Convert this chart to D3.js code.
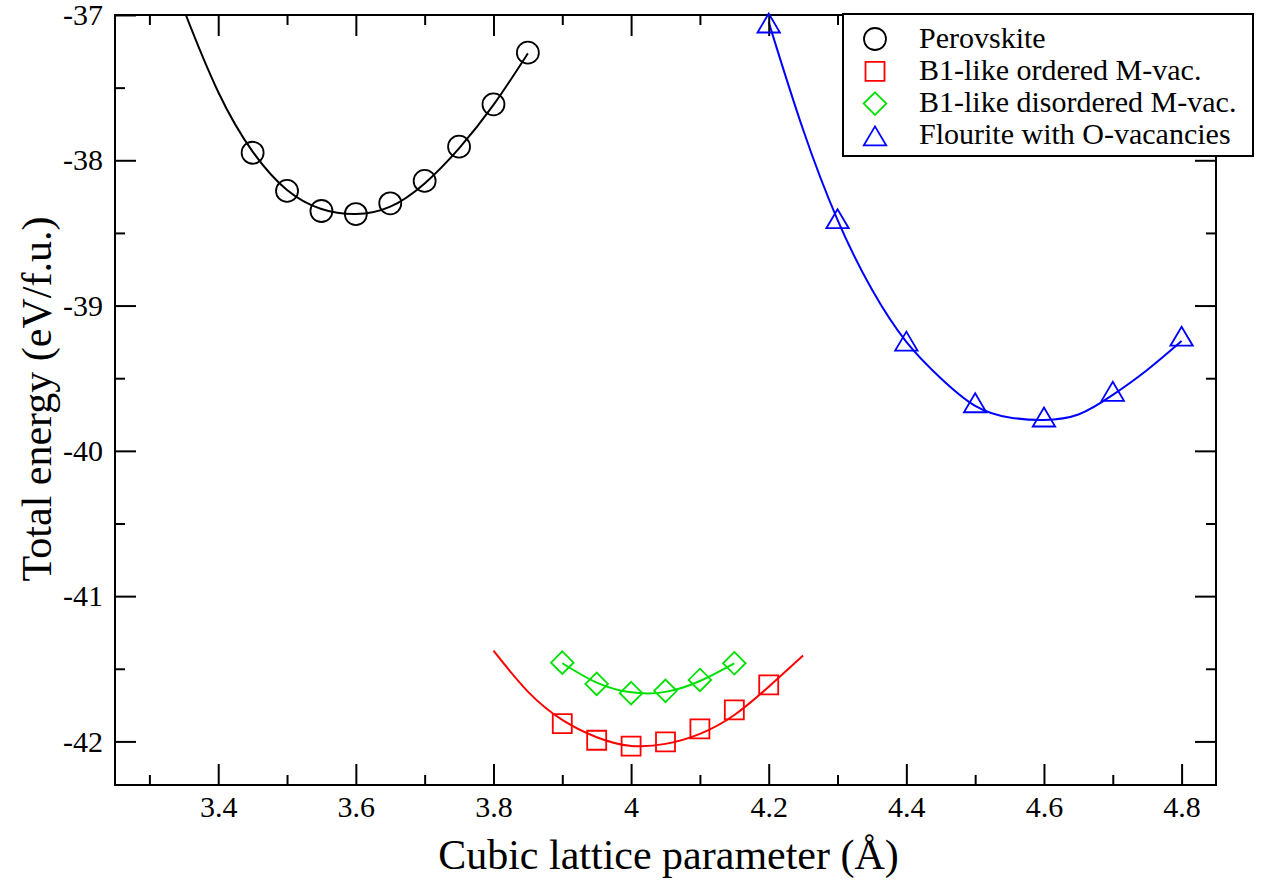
<!DOCTYPE html>
<html>
<head>
<meta charset="utf-8">
<script src="https://cdn.jsdelivr.net/npm/d3@7"></script>
<style>
  html, body { margin: 0; padding: 0; background: #fff; }
  svg { display: block; }
  text { font-family: "Liberation Serif", "Times New Roman", serif; fill: #000; }
</style>
</head>
<body>
<svg id="chart" width="1266" height="883"></svg>
<script>
// ---------------- data ----------------
const xMajorTicks = [3.4, 3.6, 3.8, 4.0, 4.2, 4.4, 4.6, 4.8];
const xMinorTicks = [3.3, 3.5, 3.7, 3.9, 4.1, 4.3, 4.5, 4.7];
const yMajorTicks = [-42, -41, -40, -39, -38, -37];
const yMinorTicks = [-41.5, -40.5, -39.5, -38.5, -37.5];

const seriesNames = ["Perovskite", "B1-like ordered M-vac.", "B1-like disordered M-vac.", "Flourite with O-vacancies"];
const seriesColors = ["#000000", "#ff0000", "#00e000", "#0000ff"];
const seriesSymbols = ["circle", "square", "diamond", "triangle"];

// measured points
const perovskiteA = [3.45, 3.50, 3.55, 3.60, 3.65, 3.70, 3.75, 3.80, 3.85];
const perovskiteE = [-37.948, -38.211, -38.349, -38.370, -38.296, -38.142, -37.906, -37.615, -37.259];

const b1OrderedA = [3.90, 3.95, 4.00, 4.05, 4.10, 4.15, 4.20];
const b1OrderedE = [-41.877, -41.992, -42.033, -42.003, -41.914, -41.783, -41.611];

const b1DisorderedA = [3.90, 3.95, 4.00, 4.05, 4.10, 4.15];
const b1DisorderedE = [-41.458, -41.604, -41.668, -41.652, -41.577, -41.462];

const fluoriteA = [4.2, 4.3, 4.4, 4.5, 4.6, 4.7, 4.8];
const fluoriteE = [-37.055, -38.402, -39.245, -39.669, -39.767, -39.590, -39.211];

// fitted curves
const perovskiteFitA = [3.33, 3.353, 3.40, 3.45, 3.50, 3.55, 3.60, 3.65, 3.70, 3.75, 3.80, 3.85];
const perovskiteFitE = [-36.71, -37.0, -37.53, -37.94, -38.204, -38.335, -38.370, -38.319, -38.159, -37.918, -37.619, -37.264];

const b1OrderedFitA = [3.80, 3.85, 3.90, 3.95, 4.00, 4.05, 4.10, 4.15, 4.20, 4.25];
const b1OrderedFitE = [-41.375, -41.657, -41.852, -41.971, -42.031, -42.017, -41.948, -41.818, -41.623, -41.409];

const b1DisorderedFitA = [3.90, 3.95, 4.00, 4.05, 4.10, 4.15];
const b1DisorderedFitE = [-41.462, -41.595, -41.662, -41.659, -41.584, -41.462];

const fluoriteFitA = [4.20, 4.25, 4.30, 4.35, 4.40, 4.45, 4.50, 4.55, 4.60, 4.65, 4.70, 4.75, 4.80];
const fluoriteFitE = [-37.05, -37.79, -38.41, -38.89, -39.25, -39.50, -39.69, -39.77, -39.787, -39.75, -39.615, -39.443, -39.244];

const xTitle = "Cubic lattice parameter (Å)";
const yTitle = "Total energy (eV/f.u.)";

// ---------------- layout ----------------
const L = 115, R = 1216, T = 15, B = 785;
const svg = d3.select("#chart");
const x = d3.scaleLinear().domain([3.25, 4.85]).range([L, R]);
const y = d3.scaleLinear().domain([-42.3, -37]).range([B, T]);

const series = [
  { pts: d3.zip(perovskiteA, perovskiteE), fit: d3.zip(perovskiteFitA, perovskiteFitE) },
  { pts: d3.zip(b1OrderedA, b1OrderedE), fit: d3.zip(b1OrderedFitA, b1OrderedFitE) },
  { pts: d3.zip(b1DisorderedA, b1DisorderedE), fit: d3.zip(b1DisorderedFitA, b1DisorderedFitE) },
  { pts: d3.zip(fluoriteA, fluoriteE), fit: d3.zip(fluoriteFitA, fluoriteFitE) }
].map((s, i) => ({ ...s, name: seriesNames[i], color: seriesColors[i], symbol: seriesSymbols[i] }));

svg.append("defs").append("clipPath").attr("id", "plotclip")
  .append("rect").attr("x", L).attr("y", T).attr("width", R - L).attr("height", B - T);

// curves
const line = d3.line().x(d => x(d[0])).y(d => y(d[1])).curve(d3.curveNatural);
const curveG = svg.append("g").attr("clip-path", "url(#plotclip)");
series.forEach(s => {
  curveG.append("path").attr("d", line(s.fit))
    .attr("fill", "none").attr("stroke", s.color).attr("stroke-width", 2);
});

// axes (ticks pointing inward, on all four sides)
const fmt = d => String(+d.toFixed(2));
function styleAxis(g) {
  g.select(".domain").remove();
  g.selectAll(".tick line").attr("stroke", "#000").attr("stroke-width", 2);
  g.selectAll("text").style("font-family", '"Liberation Serif", "Times New Roman", serif')
    .style("font-size", "30px").attr("fill", "#000");
}
const MAJ = 21, MIN = 10;
// bottom
svg.append("g").attr("transform", `translate(0,${B})`)
  .call(d3.axisBottom(x).tickValues(xMajorTicks).tickSize(-MAJ).tickPadding(11).tickFormat(fmt))
  .call(styleAxis);
svg.append("g").attr("transform", `translate(0,${B})`)
  .call(d3.axisBottom(x).tickValues(xMinorTicks).tickSize(-MIN).tickFormat(""))
  .call(styleAxis);
// top
svg.append("g").attr("transform", `translate(0,${T})`)
  .call(d3.axisTop(x).tickValues(xMajorTicks).tickSize(-MAJ).tickFormat(""))
  .call(styleAxis);
svg.append("g").attr("transform", `translate(0,${T})`)
  .call(d3.axisTop(x).tickValues(xMinorTicks).tickSize(-MIN).tickFormat(""))
  .call(styleAxis);
// left
svg.append("g").attr("transform", `translate(${L},0)`)
  .call(d3.axisLeft(y).tickValues(yMajorTicks).tickSize(-MAJ).tickPadding(12).tickFormat(fmt))
  .call(styleAxis);
svg.append("g").attr("transform", `translate(${L},0)`)
  .call(d3.axisLeft(y).tickValues(yMinorTicks).tickSize(-MIN).tickFormat(""))
  .call(styleAxis);
// right
svg.append("g").attr("transform", `translate(${R},0)`)
  .call(d3.axisRight(y).tickValues(yMajorTicks).tickSize(-MAJ).tickFormat(""))
  .call(styleAxis);
svg.append("g").attr("transform", `translate(${R},0)`)
  .call(d3.axisRight(y).tickValues(yMinorTicks).tickSize(-MIN).tickFormat(""))
  .call(styleAxis);

// frame
svg.append("rect").attr("x", L).attr("y", T).attr("width", R - L).attr("height", B - T)
  .attr("fill", "none").attr("stroke", "#000").attr("stroke-width", 2);

// axis titles
svg.append("text").attr("x", (L + R) / 2 + 3).attr("y", 869)
  .attr("text-anchor", "middle").style("font-size", "42px").text(xTitle);
svg.append("text").attr("transform", `translate(51,${(T + B) / 2 - 1}) rotate(-90)`)
  .attr("text-anchor", "middle").style("font-size", "42px").text(yTitle);

// symbols
function symbolPath(kind) {
  switch (kind) {
    case "circle": return d3.symbol(d3.symbolCircle, Math.PI * 11 * 11)();
    case "square": return "M-9.5,-9.5H9.5V9.5H-9.5Z";
    case "diamond": return "M0,-11.3L11.3,0L0,11.3L-11.3,0Z";
    case "triangle": return "M0,-9.5L11.2,9.5L-11.2,9.5Z";
  }
}
series.forEach(s => {
  svg.append("g").selectAll("path").data(s.pts).join("path")
    .attr("transform", d => `translate(${x(d[0])},${y(d[1])})`)
    .attr("d", symbolPath(s.symbol))
    .attr("fill", "none").attr("stroke", s.color).attr("stroke-width", 1.8);
});

// legend
const lg = svg.append("g");
lg.append("rect").attr("x", 843).attr("y", 14).attr("width", 410).attr("height", 142)
  .attr("fill", "#fff").attr("stroke", "#000").attr("stroke-width", 2);
series.forEach((s, i) => {
  const base = 47.5 + i * 32.3;
  lg.append("path").attr("transform", `translate(875,${base - 8.5})`)
    .attr("d", symbolPath(s.symbol))
    .attr("fill", "none").attr("stroke", s.color).attr("stroke-width", 1.8);
  lg.append("text").attr("x", 919).attr("y", base).style("font-size", "30px").text(s.name);
});
</script>
</body>
</html>
